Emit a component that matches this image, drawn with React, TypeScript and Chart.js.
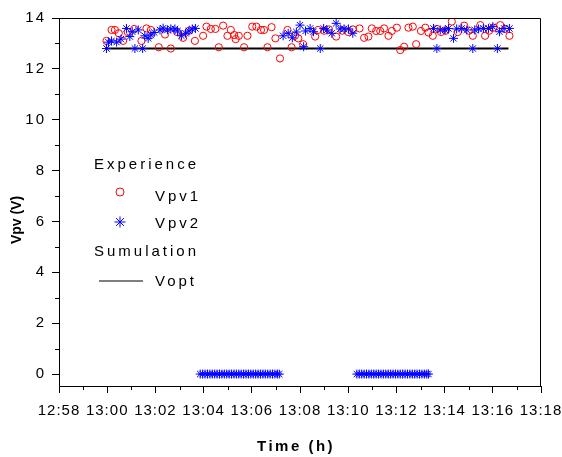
import React, { useEffect, useRef } from 'react';
import { Chart, registerables } from 'chart.js';

Chart.register(...registerables);

// x values are minutes after 13:00
const xTickValues = [-2, 0, 2, 4, 6, 8, 10, 12, 14, 16, 18];
const xTickLabels = ['12:58', '13:00', '13:02', '13:04', '13:06', '13:08', '13:10', '13:12', '13:14', '13:16', '13:18'];
const xMinorTicks = [-1, 1, 3, 5, 7, 9, 11, 13, 15, 17];
const yTickValues = [0, 2, 4, 6, 8, 10, 12, 14];
const yMinorTicks = [1, 3, 5, 7, 9, 11, 13];

const vpv1Time = [
  -0.03, 0.18, 0.32, 0.48, 0.66, 0.85, 1.12, 1.42, 1.63, 1.81, 2.14, 2.4, 2.64, 2.9, 3.15, 3.4, 3.64,
  3.98, 4.12, 4.3, 4.49, 4.63, 4.81, 4.99, 5.13, 5.27, 5.33, 5.46, 5.68, 5.82, 6.02, 6.19, 6.38, 6.51,
  6.65, 6.82, 6.98, 7.17, 7.48, 7.65, 7.79, 7.93, 8.13, 8.63, 8.75, 9.0, 9.2, 9.5, 9.75, 10.0, 10.2,
  10.47, 10.66, 10.84, 10.98, 11.16, 11.33, 11.49, 11.67, 11.81, 12.02, 12.16, 12.32, 12.5, 12.68, 12.82,
  13.02, 13.2, 13.33, 13.51, 13.68, 13.85, 14.05, 14.3, 14.55, 14.81, 15.0, 15.17, 15.48, 15.68, 15.85,
  16.03, 16.31, 16.51, 16.69,
];
const vpv1Values = [
  13.1, 13.53, 13.53, 13.4, 13.1, 13.45, 13.57, 13.1, 13.59, 13.53, 12.85, 13.35, 12.8, 13.45, 13.22, 13.5, 13.1,
  13.3, 13.66, 13.57, 13.57, 12.85, 13.7, 13.3, 13.53, 13.33, 13.17, 13.3, 12.85, 13.3, 13.66, 13.66, 13.53, 13.53,
  12.85, 13.64, 13.2, 12.41, 13.53, 12.85, 13.3, 13.2, 12.97, 13.27, 13.53, 13.5, 13.55, 13.27, 13.5, 13.45, 13.55,
  13.59, 13.22, 13.27, 13.59, 13.49, 13.49, 13.59, 13.3, 13.49, 13.62, 12.74, 12.87, 13.62, 13.66, 12.97,
  13.49, 13.62, 13.43, 13.3, 13.57, 13.45, 13.5, 13.86, 13.45, 13.7, 13.5, 13.3, 13.72, 13.3, 13.5,
  13.62, 13.72, 13.57, 13.3,
];

const vpv2Time = [
  -0.03, 0.05, 0.18, 0.39, 0.57, 0.8, 0.94, 1.04, 1.15, 1.29, 1.47, 1.56, 1.7, 1.81, 1.95, 2.19, 2.32, 2.5,
  2.64, 2.81, 2.92, 3.08, 3.25, 3.39, 3.53, 3.66,
  3.86, 3.96, 4.06, 4.16, 4.26, 4.36, 4.46, 4.56, 4.66, 4.76, 4.86, 4.96, 5.06, 5.16, 5.26, 5.36, 5.46,
  5.56, 5.66, 5.76, 5.86, 5.96, 6.06, 6.16, 6.26, 6.36, 6.46, 6.56, 6.66, 6.76, 6.86, 6.96, 7.06, 7.14,
  7.3, 7.51, 7.68, 7.85, 8.0, 8.15, 8.23, 8.42, 8.56, 8.84, 8.98, 9.12, 9.32, 9.5, 9.67, 9.83, 10.01, 10.19,
  10.36, 10.46, 10.56, 10.66, 10.76, 10.86, 10.96, 11.06, 11.16, 11.26, 11.36, 11.46, 11.56, 11.66, 11.76,
  11.86, 11.96, 12.06, 12.16, 12.26, 12.36, 12.46, 12.56, 12.66, 12.76, 12.86, 12.96, 13.06, 13.16, 13.26, 13.33,
  13.54, 13.68, 13.82, 14.02, 14.16, 14.37, 14.5, 14.71, 14.92, 15.17, 15.25, 15.41, 15.61, 15.82, 16.0,
  16.19, 16.28, 16.47, 16.69,
];
const vpv2Values = [
  12.8, 13.05, 13.1, 13.05, 13.17, 13.59, 13.27, 13.46, 12.8, 13.53, 12.8, 13.3, 13.2, 13.33, 13.43, 13.53, 13.6, 13.53,
  13.57, 13.57, 13.49, 13.3, 13.4, 13.49, 13.57, 13.59,
  0, 0, 0, 0, 0, 0, 0, 0, 0, 0, 0, 0, 0, 0, 0, 0, 0,
  0, 0, 0, 0, 0, 0, 0, 0, 0, 0, 0, 0, 0, 0, 0, 0, 0,
  13.3, 13.4, 13.22, 13.45, 13.72, 12.87, 13.49, 13.59, 13.46, 12.8, 13.59, 13.53, 13.4, 13.79, 13.57, 13.57, 13.57, 13.4,
  0, 0, 0, 0, 0, 0, 0, 0, 0, 0, 0, 0, 0, 0, 0,
  0, 0, 0, 0, 0, 0, 0, 0, 0, 0, 0, 0, 0, 0, 0, 0,
  13.59, 12.8, 13.53, 13.53, 13.59, 13.2, 13.57, 13.59, 13.53, 12.8, 13.53, 13.57, 13.59, 13.59, 13.66,
  12.8, 13.46, 13.59, 13.59,
];

const voptTime = [0, 16.65];
const voptValues = [12.8, 12.8];

const FONT = '"Liberation Sans", Arial, sans-serif';

const toPoints = (xs: number[], ys: number[]) => xs.map((x, i) => ({ x, y: ys[i] }));

const decorPlugin = {
  id: 'decor',
  beforeDraw(chart: any) {
    chart.ctx.letterSpacing = '2px';
  },
  afterDatasetsDraw(chart: any) {
    chart.ctx.letterSpacing = '1px';
  },
  afterDraw(chart: any) {
    const { ctx, chartArea: ca, scales } = chart;
    ctx.save();
    ctx.letterSpacing = '0px';
    ctx.strokeStyle = '#000';
    ctx.lineWidth = 1;
    // frame top & right
    ctx.beginPath();
    ctx.moveTo(ca.left, Math.round(ca.top) + 0.5);
    ctx.lineTo(Math.round(ca.right) - 0.5, Math.round(ca.top) + 0.5);
    ctx.lineTo(Math.round(ca.right) - 0.5, ca.bottom);
    ctx.stroke();
    // minor ticks
    ctx.beginPath();
    xMinorTicks.forEach((v) => {
      const px = Math.round(scales.x.getPixelForValue(v)) + 0.5;
      ctx.moveTo(px, ca.bottom);
      ctx.lineTo(px, ca.bottom + 4);
    });
    yMinorTicks.forEach((v) => {
      const py = Math.round(scales.y.getPixelForValue(v)) + 0.5;
      ctx.moveTo(ca.left, py);
      ctx.lineTo(ca.left - 4, py);
    });
    ctx.stroke();

    // legend
    ctx.fillStyle = '#000';
    ctx.font = `15px ${FONT}`;
    ctx.letterSpacing = '3px';
    ctx.textAlign = 'left';
    ctx.textBaseline = 'middle';
    ctx.fillText('Experience', 94, 165);
    ctx.fillText('Vpv1', 155, 197);
    ctx.fillText('Vpv2', 155, 224);
    ctx.fillText('Sumulation', 94, 252);
    ctx.fillText('Vopt', 155, 282);

    ctx.strokeStyle = '#ff0000';
    ctx.lineWidth = 1;
    ctx.beginPath();
    ctx.arc(120, 192, 4, 0, Math.PI * 2);
    ctx.stroke();

    ctx.strokeStyle = '#0000ff';
    ctx.beginPath();
    const sr = 5.5;
    for (let k = 0; k < 4; k++) {
      const a = (k * Math.PI) / 4;
      ctx.moveTo(120 - Math.cos(a) * sr, 222 - Math.sin(a) * sr);
      ctx.lineTo(120 + Math.cos(a) * sr, 222 + Math.sin(a) * sr);
    }
    ctx.stroke();

    ctx.strokeStyle = '#555';
    ctx.lineWidth = 1.5;
    ctx.beginPath();
    ctx.moveTo(99, 281);
    ctx.lineTo(143, 281);
    ctx.stroke();

    // axis titles
    ctx.fillStyle = '#000';
    ctx.font = `bold 15px ${FONT}`;
    ctx.letterSpacing = '2.5px';
    ctx.textBaseline = 'alphabetic';
    ctx.textAlign = 'left';
    ctx.fillText('Time (h)', 257, 451);

    ctx.save();
    ctx.font = `bold 14px ${FONT}`;
    ctx.letterSpacing = '0px';
    ctx.translate(20.5, 220);
    ctx.rotate(-Math.PI / 2);
    ctx.textAlign = 'center';
    ctx.fillText('Vpv (V)', 0, 0);
    ctx.restore();

    ctx.restore();
  },
};

export default function App() {
  const ref = useRef<HTMLCanvasElement>(null);
  useEffect(() => {
    if (!ref.current) return;
    Chart.defaults.font.family = FONT;
    const chart = new Chart(ref.current, {
      type: 'scatter',
      data: {
        datasets: [
          {
            label: 'Vpv2',
            data: toPoints(vpv2Time, vpv2Values),
            pointStyle: 'star',
            pointRadius: 4.5,
            borderColor: '#0000ff',
            backgroundColor: 'rgba(0,0,0,0)',
            borderWidth: 1,
          },
          {
            label: 'Vpv1',
            data: toPoints(vpv1Time, vpv1Values),
            pointStyle: 'circle',
            pointRadius: 3.6,
            borderColor: '#ff0000',
            backgroundColor: 'rgba(0,0,0,0)',
            borderWidth: 1,
          },
          {
            label: 'Vopt',
            data: toPoints(voptTime, voptValues),
            showLine: true,
            pointRadius: 0,
            borderColor: '#000',
            borderWidth: 2,
          },
        ],
      },
      options: {
        animation: false,
        responsive: false,
        devicePixelRatio: 1,
        layout: { padding: { top: 18, right: 21, left: 0, bottom: 0 } },
        plugins: { legend: { display: false }, tooltip: { enabled: false } },
        scales: {
          x: {
            type: 'linear',
            min: -2,
            max: 18,
            afterBuildTicks: (scale: any) => {
              scale.ticks = xTickValues.map((v) => ({ value: v }));
            },
            afterFit: (scale: any) => {
              scale.height = 71;
              scale.paddingLeft = 0;
              scale.paddingRight = 0;
            },
            ticks: {
              z: 1,
              autoSkip: false,
              maxRotation: 0,
              color: '#000',
              font: { size: 15 },
              padding: 9,
              callback: (value: any) => {
                const i = xTickValues.indexOf(Number(value));
                return i >= 0 ? xTickLabels[i] : '';
              },
            },
            grid: { drawOnChartArea: false, drawTicks: true, tickLength: 7, color: '#000', lineWidth: 1 },
            border: { display: true, color: '#000', width: 1 },
          },
          y: {
            type: 'linear',
            min: -0.47,
            max: 14,
            afterBuildTicks: (scale: any) => {
              scale.ticks = yTickValues.map((v) => ({ value: v }));
            },
            afterFit: (scale: any) => {
              scale.width = 59;
              scale.paddingTop = 0;
              scale.paddingBottom = 0;
            },
            ticks: {
              color: '#000',
              font: { size: 15 },
              padding: 6,
              callback: (value: any) => String(value),
            },
            grid: { drawOnChartArea: false, drawTicks: true, tickLength: 7, color: '#000', lineWidth: 1 },
            border: { display: true, color: '#000', width: 1 },
          },
        },
      },
      plugins: [decorPlugin],
    } as any);
    return () => chart.destroy();
  }, []);
  return (
    <div style={{ position: 'fixed', left: 0, top: 0, width: 562, height: 457, background: '#fff' }}>
      <canvas ref={ref} width={562} height={457} style={{ width: 562, height: 457, display: 'block' }} />
    </div>
  );
}
